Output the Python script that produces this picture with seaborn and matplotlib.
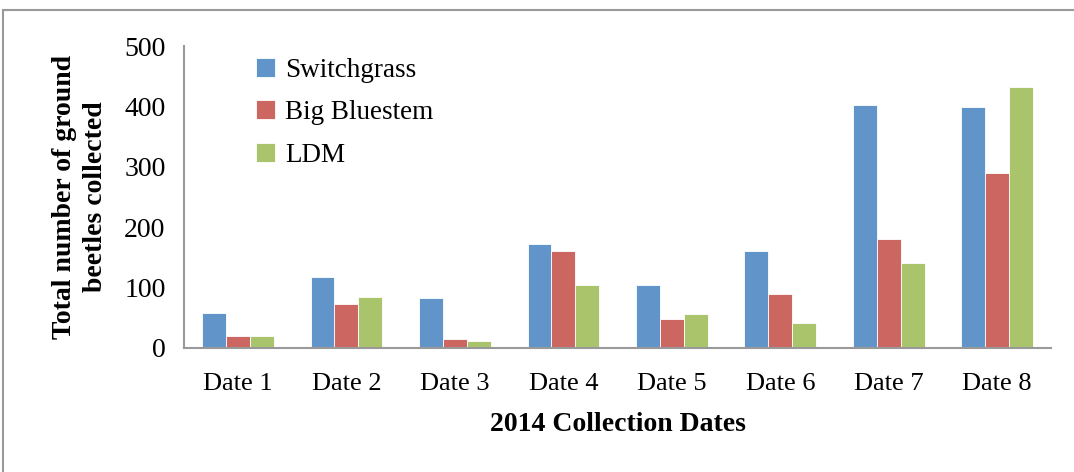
"""Ground beetle counts per collection date, grouped by crop type."""

import seaborn as sns
import pandas as pd
import matplotlib.pyplot as plt
from matplotlib.patches import Rectangle


dates = ["Date 1", "Date 2", "Date 3", "Date 4", "Date 5", "Date 6", "Date 7", "Date 8"]
switchgrass = [58, 117, 83, 172, 104, 160, 402, 400]
big_bluestem = [19, 72, 14, 161, 48, 90, 180, 290]
ldm = [20, 85, 12, 104, 56, 42, 141, 432]

series_names = ["Switchgrass", "Big Bluestem", "LDM"]
colors = ["#6195C9", "#CC6660", "#AAC46C"]


if __name__ == "__main__":

    df = pd.DataFrame({
        "date": dates * 3,
        "count": switchgrass + big_bluestem + ldm,
        "crop": [name for name in series_names for _ in dates],
    })

    sns.set_style("white")
    plt.rcParams["font.family"] = ["Liberation Serif", "DejaVu Serif"]
    plt.rcParams["text.color"] = "black"
    plt.rcParams["axes.labelcolor"] = "black"
    plt.rcParams["xtick.labelcolor"] = "black"
    plt.rcParams["ytick.labelcolor"] = "black"

    fig = plt.figure(figsize=(10.74, 4.72), dpi=100)
    ax = fig.add_axes([0.171, 0.263, 0.808, 0.639])

    sns.barplot(
        data=df, x="date", y="count", hue="crop",
        hue_order=series_names, palette=colors,
        width=0.66, gap=0, saturation=1,
        edgecolor="white", linewidth=0.6,
        ax=ax,
    )

    ax.set_ylim(0, 500)
    ax.set_xlim(-0.5, len(dates) - 0.5)
    ax.set_yticks([0, 100, 200, 300, 400, 500])

    # x ticks sit between the groups, label in the middle
    ax.set_xticks([i - 0.5 for i in range(len(dates) + 1)], minor=False)
    ax.set_xticklabels([])
    ax.set_xticks(range(len(dates)), minor=True)
    ax.set_xticklabels(dates, minor=True)
    ax.tick_params(axis="x", which="major", direction="out", length=8, width=1.5, color="#999999")
    ax.tick_params(axis="x", which="minor", length=0, labelsize=19, pad=18)
    ax.tick_params(axis="y", direction="out", length=7, width=1.5, color="#999999",
                   labelsize=20, pad=6)

    for side in ["top", "right"]:
        ax.spines[side].set_visible(False)
    for side in ["left", "bottom"]:
        ax.spines[side].set_color("#999999")
        ax.spines[side].set_linewidth(1.5)

    ax.set_xlabel("2014 Collection Dates", fontsize=20, fontweight="bold", labelpad=12)
    ax.set_ylabel("Total number of ground\nbeetles collected", fontsize=20,
                  fontweight="bold", labelpad=12, linespacing=1.3)

    ax.legend(
        loc="upper left", bbox_to_anchor=(0.062, 1.025), frameon=False,
        fontsize=19.5, handlelength=0.7, handleheight=0.7,
        handletextpad=0.35, labelspacing=0.65, borderaxespad=0.3,
    )

    # grey frame around the whole chart area
    fig.patches.append(Rectangle((3 / 1074, -0.05), 1.2, (472 - 10) / 472 + 0.05,
                                 transform=fig.transFigure, fill=False,
                                 edgecolor="#999999", linewidth=1.5))

    fig.savefig("out.png", dpi=100)
